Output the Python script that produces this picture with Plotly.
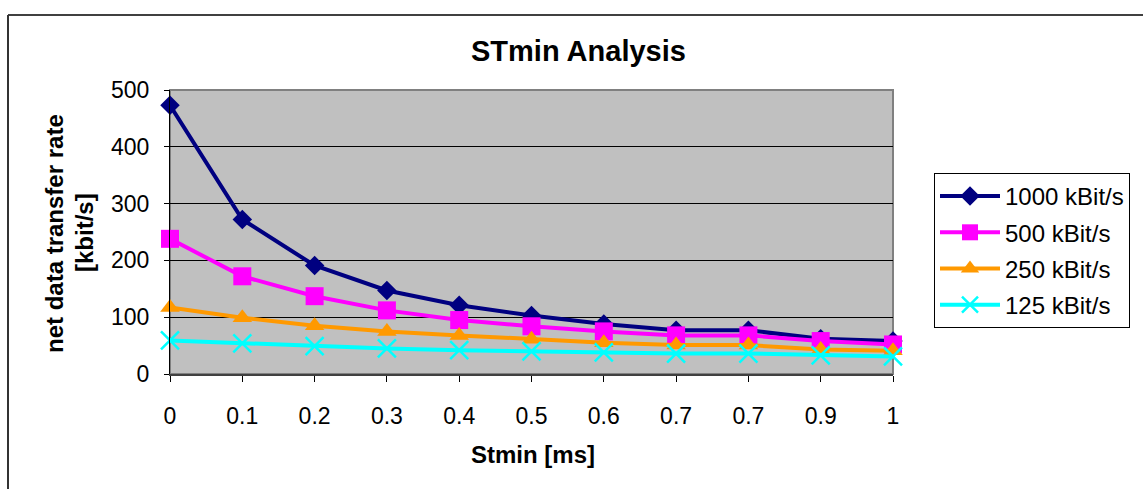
import plotly.graph_objects as go

# STmin sweep (category labels as logged, including the repeated 0.7 step)
stmin_labels = ["0", "0.1", "0.2", "0.3", "0.4", "0.5", "0.6", "0.7", "0.7", "0.9", "1"]

rate_1000 = [473, 272, 191, 147, 121, 103, 88, 77, 77, 62, 58]
rate_500 = [238, 172, 137, 112, 95, 84, 75, 68, 68, 58, 52]
rate_250 = [117, 99, 85, 75, 68, 61, 55, 51, 51, 43, 41]
rate_125 = [59, 54, 49, 45, 42, 40, 38, 36, 36, 33, 31]

series = [
    ("1000 kBit/s", rate_1000, "#000080", "diamond", 15),
    ("500 kBit/s", rate_500, "#FF00FF", "square", 18),
    ("250 kBit/s", rate_250, "#FF9900", "triangle-up", 17),
    ("125 kBit/s", rate_125, "#00FFFF", "x-thin", 18),
]

FONT = "Arial, 'Liberation Sans', sans-serif"
positions = list(range(len(stmin_labels)))

fig = go.Figure()
for i, (name, vals, color, symbol, size) in enumerate(series):
    if symbol == "x-thin":
        marker = dict(symbol=symbol, size=size, color=color,
                      line=dict(color=color, width=2.5))
    else:
        marker = dict(symbol=symbol, size=size, color=color, line=dict(width=0))
    fig.add_trace(go.Scatter(
        x=positions, y=vals, name=name, mode="lines+markers",
        line=dict(color=color, width=4), marker=marker,
        cliponaxis=False, legendgroup=f"g{i}",
    ))

L, R, T, B = 170, 250, 90, 115
W, H = 1143, 489
pw, ph = W - L - R, H - T - B


def px_x(px):
    return (px - L) / pw


def px_y(py):
    return (H - B - py) / ph


def label(text, x, y, size, angle=0):
    return dict(text=text, xref="paper", yref="paper", x=px_x(x), y=px_y(y),
                xanchor="center", yanchor="middle", showarrow=False,
                textangle=angle, font=dict(family=FONT, size=size))


fig.update_layout(
    width=W, height=H,
    margin=dict(l=L, r=R, t=T, b=B, autoexpand=False),
    paper_bgcolor="white",
    plot_bgcolor="#C0C0C0",
    font=dict(family=FONT, size=23, color="black"),
    showlegend=True,
    legend=dict(
        x=px_x(934), y=px_y(173), xanchor="left", yanchor="top",
        bordercolor="black", borderwidth=1, bgcolor="white",
        font=dict(family=FONT, size=24), traceorder="grouped",
        tracegroupgap=2, itemwidth=60,
    ),
    xaxis=dict(
        range=[0, len(stmin_labels) - 1],
        tickmode="array", tickvals=positions, ticktext=stmin_labels,
        ticks="outside", ticklen=6, tickcolor="black",
        showgrid=False, zeroline=False,
        showline=True, linecolor="#404040", linewidth=2,
        ticklabelstandoff=14,
        tickfont=dict(family=FONT, size=23),
    ),
    yaxis=dict(
        range=[0, 500], dtick=100,
        ticks="outside", ticklen=5, tickcolor="black",
        showgrid=True, gridcolor="black", gridwidth=1,
        zeroline=False, showline=True, linecolor="black", linewidth=1,
        ticklabelstandoff=10,
        tickfont=dict(family=FONT, size=23),
    ),
    shapes=[
        # plot-area frame (top/right in grey)
        dict(type="rect", xref="paper", yref="paper", x0=0, y0=0, x1=1, y1=1,
             line=dict(color="#808080", width=2), layer="below"),
        # outer chart frame
        dict(type="line", xref="paper", yref="paper",
             x0=px_x(8), y0=px_y(15), x1=px_x(1160), y1=px_y(15),
             line=dict(color="black", width=1.5)),
        dict(type="line", xref="paper", yref="paper",
             x0=px_x(8), y0=px_y(15), x1=px_x(8), y1=px_y(520),
             line=dict(color="#333333", width=2)),
    ],
    annotations=[
        label("<b>STmin Analysis</b>", 578, 51, 29),
        label("<b>Stmin [ms]</b>", 533, 454, 24),
        label("<b>net data transfer rate</b>", 54, 233, 24, -90),
        label("<b>[kbit/s]</b>", 84, 233, 24, -90),
    ],
)

fig.write_html("out.html")
